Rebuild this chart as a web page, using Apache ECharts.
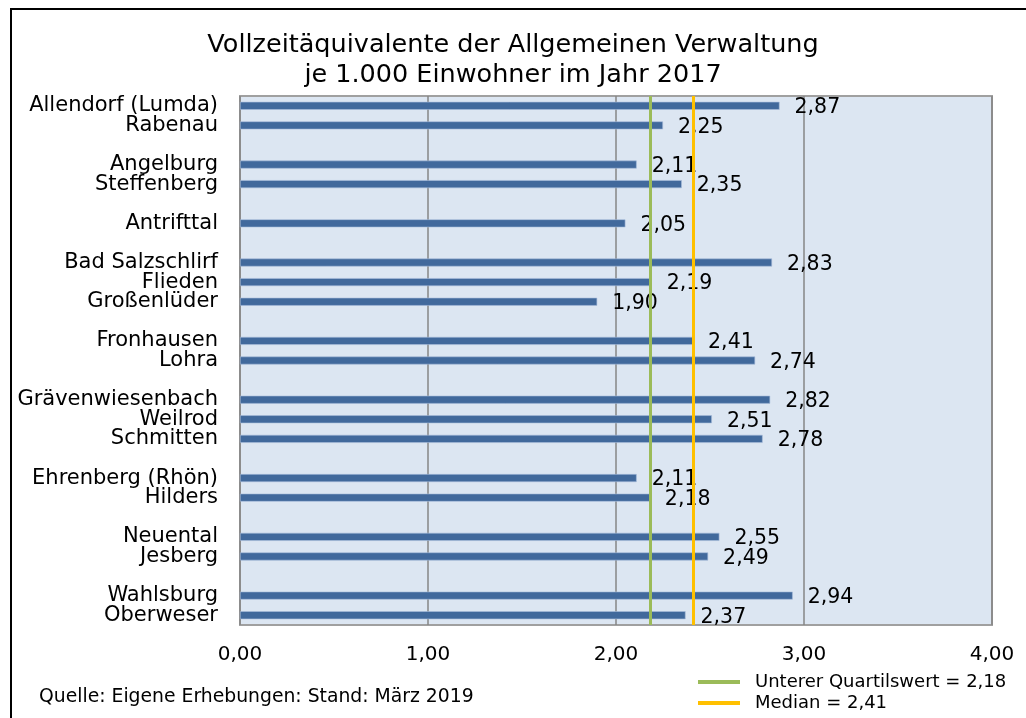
<!DOCTYPE html>
<html>
<head>
<meta charset="utf-8">
<script src="https://cdn.jsdelivr.net/npm/echarts/dist/echarts.min.js"></script>
<style>
  html, body { margin: 0; padding: 0; background: #fff; }
  #main { width: 1026px; height: 718px; }
</style>
</head>
<body>
<div id="main"></div>
<script>
// leere Einträge = Abstand zwischen den Gruppen
var gemeinden = ["Allendorf (Lumda)", "Rabenau", "", "Angelburg", "Steffenberg", "", "Antrifttal", "",
  "Bad Salzschlirf", "Flieden", "Großenlüder", "", "Fronhausen", "Lohra", "",
  "Grävenwiesenbach", "Weilrod", "Schmitten", "", "Ehrenberg (Rhön)", "Hilders", "",
  "Neuental", "Jesberg", "", "Wahlsburg", "Oberweser"];
var vze = [2.87, 2.25, "-", 2.11, 2.35, "-", 2.05, "-",
  2.83, 2.19, 1.90, "-", 2.41, 2.74, "-",
  2.82, 2.51, 2.78, "-", 2.11, 2.18, "-",
  2.55, 2.49, "-", 2.94, 2.37];
var quartil = 2.18;
var median = 2.41;
var xTicks = [0, 1, 2, 3, 4];

var font = "DejaVu Sans";
function komma(v) {
  return Number(v).toFixed(2).replace(".", ",");
}
var nameQ = "Unterer Quartilswert = " + komma(quartil);
var nameM = "Median = " + komma(median);

var legendText = { fontFamily: font, fontSize: 18, color: "#000", padding: [0, 0, 0, 10] };

var myEchart = echarts.init(document.getElementById("main"));
var option = {
  animation: false,
  textStyle: { fontFamily: font },
  title: [
    {
      text: "Vollzeitäquivalente der Allgemeinen Verwaltung\nje 1.000 Einwohner im Jahr 2017",
      left: "center",
      top: 25,
      textStyle: { fontFamily: font, fontSize: 25.5, fontWeight: "normal", color: "#000", lineHeight: 30 },
    },
    {
      text: "Quelle: Eigene Erhebungen: Stand: März 2019",
      left: 34,
      top: 683,
      textStyle: { fontFamily: font, fontSize: 18.8, fontWeight: "normal", color: "#000" },
    },
  ],
  graphic: [
    {
      type: "rect",
      shape: { x: 11, y: 9, width: 1040, height: 740 },
      style: { fill: "none", stroke: "#000", lineWidth: 2 },
      silent: true,
    },
  ],
  legend: [
    {
      left: 698,
      top: 673,
      padding: 0,
      icon: "rect",
      itemWidth: 42,
      itemHeight: 4,
      textStyle: legendText,
      data: [nameQ],
    },
    {
      left: 698,
      top: 694,
      padding: 0,
      icon: "rect",
      itemWidth: 42,
      itemHeight: 4,
      textStyle: legendText,
      data: [nameM],
    },
  ],
  grid: {
    left: 240,
    right: 34,
    top: 96,
    bottom: 93,
    show: true,
    backgroundColor: "#dce6f2",
    borderColor: "#a0a0a0",
    borderWidth: 2,
  },
  xAxis: {
    type: "value",
    min: xTicks[0],
    max: xTicks[xTicks.length - 1],
    interval: 1,
    axisLine: { show: false },
    axisTick: { show: false },
    axisLabel: {
      margin: 20,
      fontFamily: font,
      fontSize: 20,
      color: "#000",
      formatter: komma,
    },
    splitLine: { lineStyle: { color: "#868686", width: 1.5 } },
  },
  yAxis: {
    type: "category",
    inverse: true,
    data: gemeinden,
    axisLine: { show: false },
    axisTick: { show: false },
    axisLabel: { margin: 22, fontFamily: font, fontSize: 21, color: "#000", interval: 0 },
  },
  series: [
    {
      name: "VZE",
      type: "bar",
      data: vze,
      barWidth: 8,
      itemStyle: { color: "#41699c", borderColor: "#a9bedb", borderWidth: 0.6 },
      label: {
        show: true,
        position: "right",
        distance: 15,
        offset: [0, 2],
        fontFamily: font,
        fontSize: 20.5,
        color: "#000",
        formatter: function (p) { return komma(p.value); },
      },
      z: 2,
    },
    {
      name: nameQ,
      type: "line",
      data: [],
      itemStyle: { color: "#9bbb59" },
      lineStyle: { color: "#9bbb59", width: 3 },
      markLine: {
        silent: true,
        symbol: "none",
        label: { show: false },
        lineStyle: { color: "#9bbb59", width: 3, type: "solid" },
        data: [{ xAxis: quartil }],
      },
      z: 3,
    },
    {
      name: nameM,
      type: "line",
      data: [],
      itemStyle: { color: "#ffc000" },
      lineStyle: { color: "#ffc000", width: 3 },
      markLine: {
        silent: true,
        symbol: "none",
        label: { show: false },
        lineStyle: { color: "#ffc000", width: 3, type: "solid" },
        data: [{ xAxis: median }],
      },
      z: 3,
    },
  ],
};
option && myEchart.setOption(option);
</script>
</body>
</html>
